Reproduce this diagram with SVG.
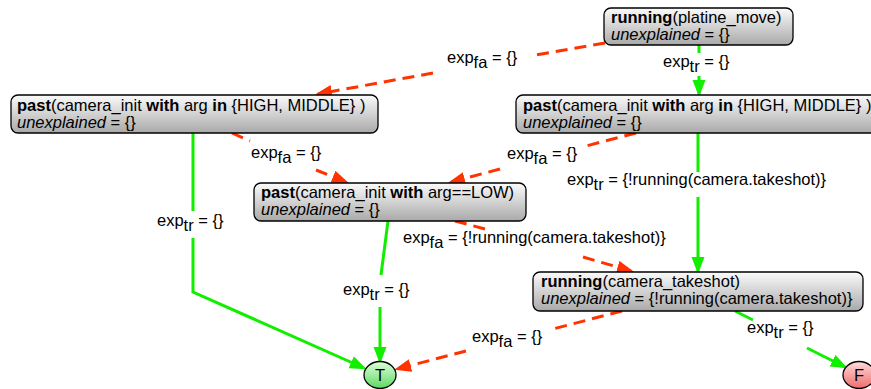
<svg xmlns="http://www.w3.org/2000/svg" width="871" height="389" viewBox="0 0 871 389">
<defs>
<linearGradient id="gbox" x1="0" y1="0" x2="0" y2="1">
<stop offset="0" stop-color="#fbfbfb"/>
<stop offset="1" stop-color="#a9a9a9"/>
</linearGradient>
<linearGradient id="gT" x1="0" y1="0" x2="0" y2="1">
<stop offset="0" stop-color="#dcffdc"/>
<stop offset="1" stop-color="#5fd85f"/>
</linearGradient>
<linearGradient id="gF" x1="0" y1="0" x2="0" y2="1">
<stop offset="0" stop-color="#ffdcdc"/>
<stop offset="1" stop-color="#f06a6a"/>
</linearGradient>
<marker id="ag" markerUnits="userSpaceOnUse" markerWidth="17" markerHeight="14" refX="14" refY="6.5" orient="auto">
<path d="M0,0 L17,6.5 L0,13 z" fill="#11ee00" stroke="none"/>
</marker>
<marker id="ar" markerUnits="userSpaceOnUse" markerWidth="17" markerHeight="14" refX="14" refY="6.5" orient="auto">
<path d="M0,0 L17,6.5 L0,13 z" fill="#ff3300" stroke="none"/>
</marker>
</defs>
<style>
text{font-family:"Liberation Sans",Arial,Helvetica,sans-serif;font-size:16.5px;fill:#000}
.b{font-weight:bold}
.i{font-style:italic}
.box{fill:url(#gbox);stroke:#000;stroke-width:1.3}
.tr{fill:none;stroke:#11ee00;stroke-width:3;marker-end:url(#ag)}
.fa{fill:none;stroke:#ff3300;stroke-width:3;stroke-dasharray:12 7;marker-end:url(#ar)}
</style>
<g id="connectors">
<path class="tr" d="M699,45 L699,53 M699,76 L699,94"/>
<path class="fa" d="M605,43 L530,56 M433,73 L318,94"/>
<path class="fa" d="M232,133 L250,141 M316,170 L346,182"/>
<path class="fa" d="M636,133 L586,146 M500,169 L451,182"/>
<path class="tr" d="M698,133 L698,172 M698,197 L698,271"/>
<path class="tr" d="M193,133 L193,211 M193,238 L193,292 L364,368"/>
<path class="tr" d="M388,221 L381,275 M380,307 L380,361"/>
<path class="fa" d="M455,221 L489,230 M583,257 L631,271"/>
<path class="fa" d="M622,311 L553,329 M466,351 L397,369"/>
<path class="tr" d="M735,311 L753,320 M807,348 L845,367"/>
<text x="663" y="67">exp<tspan dy="5">tr</tspan><tspan dy="-5"> = {}</tspan></text>
<text x="447" y="63">exp<tspan dy="5">fa</tspan><tspan dy="-5"> = {}</tspan></text>
<text x="251" y="158">exp<tspan dy="5">fa</tspan><tspan dy="-5"> = {}</tspan></text>
<text x="507" y="159">exp<tspan dy="5">fa</tspan><tspan dy="-5"> = {}</tspan></text>
<text x="567" y="185">exp<tspan dy="5">tr</tspan><tspan dy="-5"> = {!running(camera.takeshot)}</tspan></text>
<text x="157" y="226">exp<tspan dy="5">tr</tspan><tspan dy="-5"> = {}</tspan></text>
<text x="403" y="243">exp<tspan dy="5">fa</tspan><tspan dy="-5"> = {!running(camera.takeshot)}</tspan></text>
<text x="343" y="295">exp<tspan dy="5">tr</tspan><tspan dy="-5"> = {}</tspan></text>
<text x="472" y="342">exp<tspan dy="5">fa</tspan><tspan dy="-5"> = {}</tspan></text>
<text x="747" y="333">exp<tspan dy="5">tr</tspan><tspan dy="-5"> = {}</tspan></text>
</g>
<g id="n_platine">
<rect class="box" x="604" y="8" width="189" height="37" rx="7"/>
<text x="611" y="23"><tspan class="b">running</tspan>(platine_move)</text>
<text x="611" y="40"><tspan class="i">unexplained</tspan> = {}</text>
</g>
<g id="n_past_left">
<rect class="box" x="11" y="95" width="367" height="38" rx="7"/>
<text x="17" y="111"><tspan class="b">past</tspan>(camera_init <tspan class="b">with</tspan> arg <tspan class="b">in</tspan> {HIGH, MIDDLE} )</text>
<text x="17" y="128"><tspan class="i">unexplained</tspan> = {}</text>
</g>
<g id="n_past_right">
<rect class="box" x="516" y="95" width="367" height="38" rx="7"/>
<text x="523" y="111"><tspan class="b">past</tspan>(camera_init <tspan class="b">with</tspan> arg <tspan class="b">in</tspan> {HIGH, MIDDLE} )</text>
<text x="523" y="128"><tspan class="i">unexplained</tspan> = {}</text>
</g>
<g id="n_past_low">
<rect class="box" x="254" y="183" width="272" height="38" rx="7"/>
<text x="261" y="198"><tspan class="b">past</tspan>(camera_init <tspan class="b">with</tspan> arg==LOW)</text>
<text x="261" y="215"><tspan class="i">unexplained</tspan> = {}</text>
</g>
<g id="n_takeshot">
<rect class="box" x="533" y="272" width="330" height="39" rx="7"/>
<text x="541" y="287"><tspan class="b">running</tspan>(camera_takeshot)</text>
<text x="541" y="304"><tspan class="i">unexplained</tspan> = {!running(camera.takeshot)}</text>
</g>
<g id="n_T">
<ellipse cx="380" cy="375" rx="16" ry="13.5" fill="url(#gT)" stroke="#000" stroke-width="1.3"/>
<text x="380" y="381" text-anchor="middle">T</text>
</g>
<g id="n_F">
<ellipse cx="859" cy="375" rx="16" ry="13.5" fill="url(#gF)" stroke="#000" stroke-width="1.3"/>
<text x="859" y="381" text-anchor="middle">F</text>
</g>
</svg>
